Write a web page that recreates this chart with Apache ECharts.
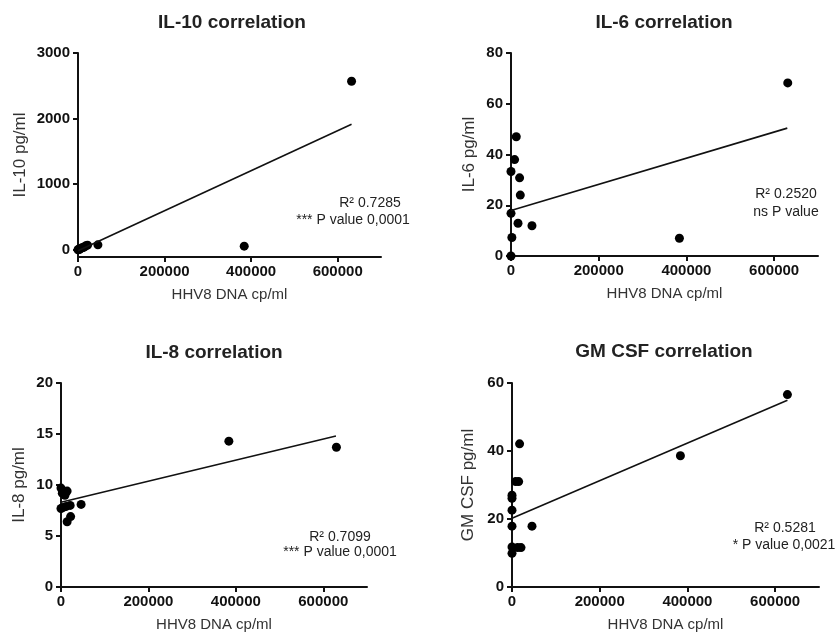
<!DOCTYPE html>
<html>
<head>
<meta charset="utf-8">
<script src="https://cdn.jsdelivr.net/npm/echarts@6/dist/echarts.min.js"></script>
<style>
html,body{margin:0;padding:0;background:#fff}
#main{width:837px;height:634px}
</style>
</head>
<body>
<div id="main"></div>
<script>
// shared x ticks (HHV8 DNA cp/ml)
var xTicks = [0, 200000, 400000, 600000];

// IL-10
var il10X = [0, 1500, 3000, 6000, 9000, 12000, 15000, 18000, 22000, 46000, 384000, 632000];
var il10Y = [0, 10, 5, 20, 30, 35, 45, 60, 70, 75, 55, 2570];
var il10FitX = [0, 632000];
var il10FitY = [-15, 1915];
var il10Ticks = [0, 1000, 2000, 3000];

// IL-6
var il6X = [0, 0, 0, 2000, 8200, 12000, 16000, 19600, 21200, 47800, 384000, 631000];
var il6Y = [0, 16.8, 33.3, 7.3, 38, 47, 12.9, 30.8, 24, 11.9, 7.0, 68.2];
var il6FitX = [0, 630000];
var il6FitY = [17.9, 50.4];
var il6Ticks = [0, 20, 40, 60, 80];

// IL-8
var il8X = [0, 3000, 9000, 14000, 0, 5000, 12000, 21000, 46000, 14000, 22000, 384000, 630000];
var il8Y = [9.7, 9.2, 9.0, 9.4, 7.7, 7.8, 7.9, 8.0, 8.1, 6.4, 6.9, 14.3, 13.7];
var il8FitX = [0, 629000];
var il8FitY = [8.3, 14.8];
var il8Ticks = [0, 5, 10, 15, 20];

// GM CSF
var gmX = [0, 0, 0, 0, 0, 0, 8300, 15200, 17300, 45600, 12700, 20500, 384000, 628000];
var gmY = [26.1, 27.0, 22.6, 17.9, 11.8, 9.9, 31, 31, 42.1, 17.9, 11.6, 11.6, 38.6, 56.6];
var gmFitX = [0, 628000];
var gmFitY = [20.2, 54.9];
var gmTicks = [0, 20, 40, 60];

var titles = ['IL-10 correlation', 'IL-6 correlation', 'IL-8 correlation', 'GM CSF correlation'];
var yNames = ['IL-10 pg/ml', 'IL-6 pg/ml', 'IL-8 pg/ml', 'GM CSF pg/ml'];
var r2Text = ['R\u00b2 0.7285', 'R\u00b2 0.2520', 'R\u00b2 0.7099', 'R\u00b2 0.5281'];
var pText = ['*** P value 0,0001', 'ns P value', '*** P value 0,0001', '* P value 0,0021'];

function pairs(xs, ys) {
    var out = [];
    for (var i = 0; i < xs.length; i++) out.push([xs[i], ys[i]]);
    return out;
}
function plain(v) { return String(v); }

var FONT = '"Liberation Sans", Arial, sans-serif';
var myChart = echarts.init(document.getElementById('main'));

var grids = [
    {left: 78, top: 53, width: 303, height: 204},
    {left: 511, top: 53, width: 307, height: 203},
    {left: 61, top: 383, width: 306, height: 204},
    {left: 512, top: 383, width: 307, height: 204}
];
var yRanges = [[-110, 3000], [0, 80], [0, 20], [0, 60]];
var yTicks = [il10Ticks, il6Ticks, il8Ticks, gmTicks];
var yGaps = [49, 33, 33, 35];
var points = [pairs(il10X, il10Y), pairs(il6X, il6Y), pairs(il8X, il8Y), pairs(gmX, gmY)];
var fits = [pairs(il10FitX, il10FitY), pairs(il6FitX, il6FitY), pairs(il8FitX, il8FitY), pairs(gmFitX, gmFitY)];

var axisLine = {show: true, onZero: false, lineStyle: {color: '#111', width: 2}};
var xAxes = [], yAxes = [], series = [];
for (var i = 0; i < 4; i++) {
    xAxes.push({
        type: 'value', gridIndex: i, min: 0, max: 700000,
        name: 'HHV8 DNA cp/ml', nameLocation: 'middle', nameGap: 30,
        nameTextStyle: {color: '#333', fontSize: 15, fontFamily: FONT},
        axisLine: axisLine,
        axisTick: {show: true, length: 5, lineStyle: {color: '#111', width: 2}, customValues: xTicks},
        axisLabel: {color: '#111', fontWeight: 'bold', fontSize: 15, fontFamily: FONT, margin: 7,
                    customValues: xTicks, formatter: plain},
        splitLine: {show: false}
    });
    yAxes.push({
        type: 'value', gridIndex: i, min: yRanges[i][0], max: yRanges[i][1],
        name: yNames[i], nameLocation: 'middle', nameGap: yGaps[i],
        nameTextStyle: {color: '#333', fontSize: 17, fontFamily: FONT},
        axisLine: axisLine,
        axisTick: {show: true, length: 5, lineStyle: {color: '#111', width: 2}, customValues: yTicks[i]},
        axisLabel: {color: '#111', fontWeight: 'bold', fontSize: 15, fontFamily: FONT, margin: 8,
                    customValues: yTicks[i], formatter: plain},
        splitLine: {show: false}
    });
    series.push({
        type: 'line', xAxisIndex: i, yAxisIndex: i, data: fits[i],
        showSymbol: false, animation: false, silent: true,
        lineStyle: {color: '#111', width: 1.6}
    });
    series.push({
        type: 'scatter', xAxisIndex: i, yAxisIndex: i, data: points[i],
        symbolSize: 9, clip: false, animation: false,
        itemStyle: {color: '#000', opacity: 1}
    });
}

function txt(x, y, text, font) {
    return {
        type: 'text', x: x, y: y, silent: true,
        style: {text: text, font: font, fill: '#222', align: 'center', verticalAlign: 'middle',
                textAlign: 'center', textVerticalAlign: 'middle'}
    };
}
var titlePos = [[232, 23], [664, 23], [214, 353], [664, 352]];
var r2Pos = [[370, 203], [786, 194], [340, 537], [785, 528]];
var pPos = [[353, 220], [786, 212], [340, 552], [784, 545]];
var graphics = [];
for (var j = 0; j < 4; j++) {
    graphics.push(txt(titlePos[j][0], titlePos[j][1], titles[j], 'bold 19px ' + FONT));
    graphics.push(txt(r2Pos[j][0], r2Pos[j][1], r2Text[j], '14px ' + FONT));
    graphics.push(txt(pPos[j][0], pPos[j][1], pText[j], '14px ' + FONT));
}

var option = {
    backgroundColor: '#fff',
    animation: false,
    grid: grids,
    xAxis: xAxes,
    yAxis: yAxes,
    series: series,
    graphic: graphics
};
myChart.setOption(option);
</script>
</body>
</html>
